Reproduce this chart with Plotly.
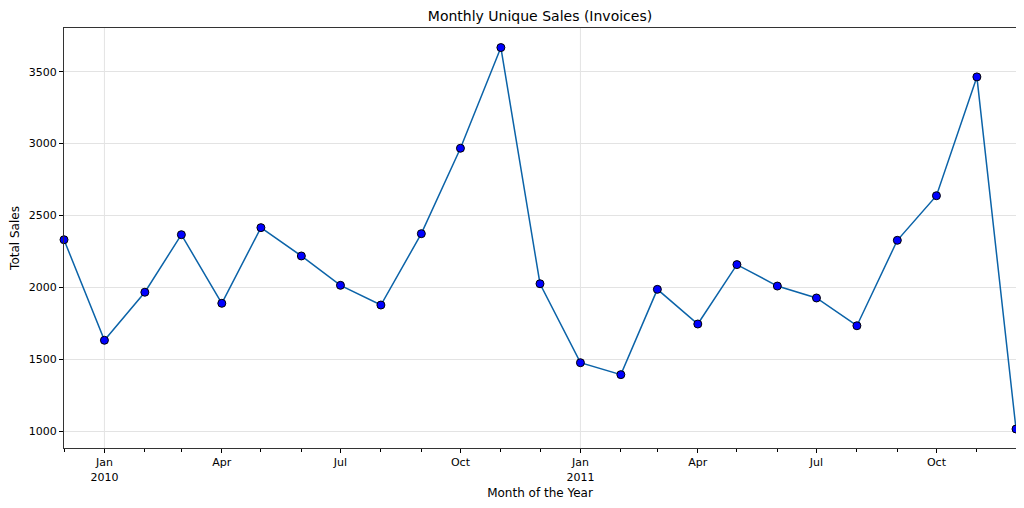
import plotly.graph_objects as go
import pandas as pd

# monthly unique invoices, Dec 2009 .. Dec 2011
months = pd.date_range("2009-12-01", "2011-12-01", freq="MS")
sales = [2332, 1633, 1967, 2367, 1890, 2416, 2219, 2015, 1878, 2374, 2968, 3668,
         2026, 1477, 1394, 1987, 1746, 2159, 2010, 1927, 1734, 2328, 2638, 3464, 1016]

tick_dates = ["2010-01-01", "2010-04-01", "2010-07-01", "2010-10-01",
              "2011-01-01", "2011-04-01", "2011-07-01", "2011-10-01"]
tick_labels = ["Jan<br>2010", "Apr", "Jul", "Oct", "Jan<br>2011", "Apr", "Jul", "Oct"]
year_starts = ["2010-01-01", "2011-01-01"]
y_ticks = [1000, 1500, 2000, 2500, 3000, 3500]

fig = go.Figure()

fig.add_trace(go.Scatter(
    x=months,
    y=sales,
    mode="lines+markers",
    line=dict(color="#0b63a8", width=1.5),
    marker=dict(color="#0000ff", size=8, line=dict(color="black", width=1)),
    cliponaxis=False,
    showlegend=False
))

# vertical grid only at the year boundaries
for d in year_starts:
    fig.add_vline(x=pd.Timestamp(d).timestamp() * 1000, line=dict(color="#e3e3e3", width=1), layer="below")

# the page body has an 8px margin, so the figure is sized to fit inside it
fig.update_layout(
    title=dict(text="Monthly Unique Sales (Invoices)", xref="paper", x=0.5, xanchor="center",
               yref="container", y=0.984, yanchor="middle",
               font=dict(size=14, color="black")),
    font=dict(family="DejaVu Sans", size=11, color="black"),
    plot_bgcolor="white",
    paper_bgcolor="white",
    width=1016,
    height=500,
    margin=dict(l=56, r=8, t=20, b=60),
)

fig.update_xaxes(
    range=[months[0], months[-1]],
    tickvals=tick_dates,
    ticktext=tick_labels,
    ticks="outside", ticklen=4, tickcolor="black",
    minor=dict(dtick="M1", ticks="outside", ticklen=3, tickcolor="black", showgrid=False),
    showgrid=False,
    showline=True, linecolor="#333333", linewidth=1, mirror=True,
    title=dict(text="Month of the Year", font=dict(size=12), standoff=6),
    tickfont=dict(size=11),
    automargin=False,
)

fig.update_yaxes(
    range=[884, 3804],
    tickvals=y_ticks,
    ticks="outside", ticklen=4, tickcolor="black",
    showgrid=True, gridcolor="#e3e3e3", gridwidth=1,
    zeroline=False,
    showline=True, linecolor="#333333", linewidth=1, mirror=True,
    title=dict(text="Total Sales", font=dict(size=12), standoff=8),
    tickfont=dict(size=11),
    automargin=False,
)

fig.write_html("out.html")
